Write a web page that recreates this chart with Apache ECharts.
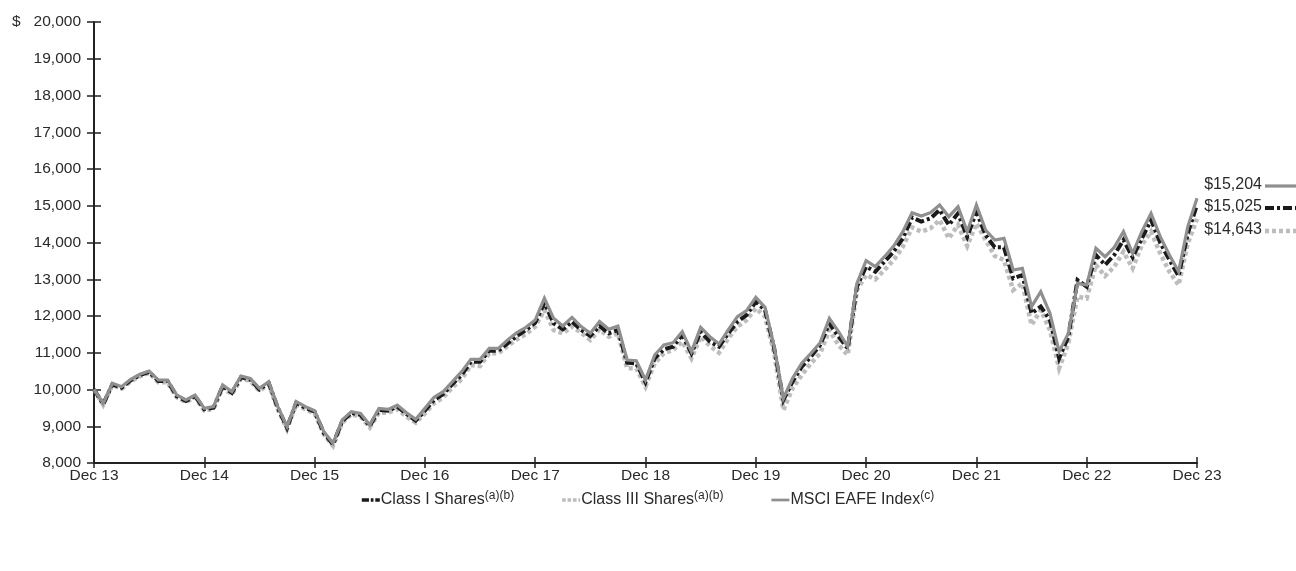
<!DOCTYPE html>
<html>
<head>
<meta charset="utf-8">
<script src="https://cdn.jsdelivr.net/npm/echarts@6/dist/echarts.min.js"></script>
<style>
html,body{margin:0;padding:0;background:#fff;}
#c{width:1296px;height:571px;}
</style>
</head>
<body>
<div id="c"></div>
<script>
// ---- data ----
const monthNames = ['Jan','Feb','Mar','Apr','May','Jun','Jul','Aug','Sep','Oct','Nov','Dec'];
const tickLabels = ['Dec 13','Dec 14','Dec 15','Dec 16','Dec 17','Dec 18','Dec 19','Dec 20','Dec 21','Dec 22','Dec 23'];
const seriesNames = ['Class I Shares', 'Class III Shares', 'MSCI EAFE Index'];
const seriesNotes = ['(a)(b)', '(a)(b)', '(c)'];
const endValues = [15025, 14643, 15204];

const classI = [
  10000, 9600, 10140, 10050, 10250, 10390, 10480, 10230, 10230, 9820, 9690, 9820, 9460, 9505, 10090, 9910, 10335, 10270, 10000, 10180, 9500, 8960, 9640, 9500, 9395, 8820, 8505, 9135, 9365,
  9306, 9007, 9442, 9424, 9533, 9333, 9152, 9424, 9714, 9877, 10150, 10394, 10757, 10757, 11057, 11057, 11256, 11456, 11619, 11818, 12363, 11800, 11637, 11846, 11619, 11456, 11728, 11528, 11619, 10730, 10712,
  10200, 10848, 11093, 11166, 11483, 10984, 11574, 11302, 11166, 11528, 11846, 12027, 12390, 12163, 11120, 9714, 10213, 10621, 10893, 11211, 11800, 11438, 11120, 12798, 13342, 13206, 13478, 13750, 14113, 14680,
  14567, 14657, 14884, 14476, 14793, 14158, 14839, 14204, 13868, 13868, 13025, 13115, 12072, 12254, 11891, 10848, 11437, 12980, 12798, 13660, 13388, 13660, 14068, 13596, 14113, 14612, 13995, 13524, 13088, 14249, 15025
];
const classIII = [
  10000, 9585, 10120, 10025, 10225, 10360, 10450, 10200, 10195, 9790, 9655, 9785, 9425, 9470, 10050, 9870, 10295, 10230, 9960, 10140, 9460, 8920, 9600, 9460, 9350, 8780, 8465, 9095, 9325,
  9261, 8970, 9370, 9370, 9460, 9261, 9097, 9351, 9624, 9787, 10059, 10277, 10667, 10639, 10984, 10984, 11184, 11365, 11510, 11710, 12163, 11619, 11528, 11710, 11546, 11347, 11637, 11438, 11528, 10576, 10576,
  10077, 10712, 10984, 11075, 11302, 10848, 11438, 11184, 11002, 11392, 11710, 11891, 12209, 11982, 10984, 9442, 10032, 10394, 10712, 10984, 11619, 11211, 10939, 12707, 13115, 12998, 13251, 13523, 13886, 14410,
  14295, 14385, 14612, 14113, 14476, 13905, 14521, 14068, 13632, 13524, 12707, 12889, 11755, 12163, 11619, 10576, 11256, 12526, 12481, 13388, 13088, 13342, 13750, 13297, 13932, 14295, 13705, 13206, 12843, 13977, 14643
];
const msci = [
  10000, 9623, 10168, 10077, 10277, 10413, 10503, 10258, 10258, 9850, 9714, 9850, 9487, 9533, 10122, 9941, 10367, 10304, 10032, 10213, 9533, 8989, 9669, 9533, 9424, 8853, 8535, 9170, 9397,
  9351, 9034, 9487, 9460, 9578, 9369, 9188, 9487, 9787, 9941, 10213, 10485, 10821, 10821, 11120, 11120, 11347, 11546, 11691, 11891, 12481, 11936, 11728, 11963, 11710, 11528, 11846, 11637, 11728, 10803, 10784,
  10258, 10939, 11211, 11274, 11574, 11029, 11691, 11438, 11238, 11619, 11982, 12145, 12508, 12236, 11166, 9760, 10304, 10712, 10984, 11274, 11936, 11574, 11166, 12889, 13505, 13342, 13614, 13905, 14295, 14811,
  14721, 14812, 15020, 14703, 14975, 14295, 15020, 14340, 14068, 14113, 13251, 13297, 12254, 12662, 12072, 11029, 11528, 12889, 12843, 13841, 13614, 13868, 14295, 13705, 14295, 14793, 14158, 13660, 13206, 14431, 15204
];

// month categories Dec 13 .. Dec 23
const categories = ['Dec 13'];
for (let y = 14; y <= 23; y++) {
  for (let m = 0; m < 12; m++) categories.push(monthNames[m] + ' ' + y);
}
const catsUsed = categories.slice(0, classI.length);

const FONT = '"Liberation Sans", Arial, sans-serif';
const TXT = '#2a2a2a';
const fmt = v => v.toLocaleString('en-US');

const styles = [
  { color: '#1a1a1a', width: 4, type: [9, 3, 3, 3] },
  { color: '#bdbdbd', width: 4.5, type: [4, 3] },
  { color: '#8f8f8f', width: 3.2, type: 'solid' }
];
const legendIcons = [
  'path://M0,0h8v4h-8z M10,0h3v4h-3z M15,0h5v4h-5z',
  'path://M0,0h4v4h-4z M6,0h4v4h-4z M12,0h4v4h-4z M18,0h2v4h-2z',
  'path://M0,0.5h20v3h-20z'
];
const dataSets = [classI, classIII, msci];

const chart = echarts.init(document.getElementById('c'), null, { renderer: 'canvas' });

const tickShow = (idx) => idx % 12 === 0;

const option = {
  animation: false,
  backgroundColor: '#fff',
  textStyle: { fontFamily: FONT },
  grid: { left: 94, right: 99, top: 22, bottom: 108, containLabel: false },
  xAxis: [
    {
      type: 'category', data: catsUsed, boundaryGap: false, position: 'bottom',
      axisLine: { show: true, lineStyle: { color: '#222', width: 2 } },
      axisTick: { show: true, inside: false, length: 5, interval: (i) => tickShow(i), lineStyle: { color: '#222', width: 1.5 } },
      axisLabel: { show: true, interval: (i) => tickShow(i), margin: 5, color: TXT, fontSize: 15.5, fontFamily: FONT },
      splitLine: { show: false }
    },
    {
      type: 'category', data: catsUsed, boundaryGap: false, position: 'bottom', offset: 0,
      axisLine: { show: false },
      axisTick: { show: true, inside: true, length: 6, interval: (i) => tickShow(i), lineStyle: { color: '#222', width: 1.5 } },
      axisLabel: { show: false },
      splitLine: { show: false }
    }
  ],
  yAxis: [
    {
      type: 'value', min: 8000, max: 20000, interval: 1000, position: 'left',
      axisLine: { show: true, lineStyle: { color: '#222', width: 2 } },
      axisTick: { show: true, inside: false, length: 7, lineStyle: { color: '#222', width: 1.5 } },
      axisLabel: {
        margin: 13, color: TXT, fontSize: 15.5, fontFamily: FONT,
        formatter: (v) => v === 20000 ? '{d|$}' + fmt(v) : fmt(v),
        rich: { d: { fontSize: 15.5, color: TXT, fontFamily: FONT, padding: [0, 13, 0, 0] } }
      },
      splitLine: { show: false }
    },
    {
      type: 'value', min: 8000, max: 20000, interval: 1000, position: 'left', offset: 0,
      axisLine: { show: false },
      axisTick: { show: true, inside: true, length: 7, lineStyle: { color: '#222', width: 1.5 } },
      axisLabel: { show: false },
      splitLine: { show: false }
    }
  ],
  legend: {
    bottom: 58, left: 'center', itemWidth: 18, itemHeight: 4, itemGap: 48,
    data: seriesNames.map((n, k) => ({ name: n, icon: legendIcons[k] })),
    textStyle: {
      color: TXT, fontSize: 16, fontFamily: FONT, padding: [0, 0, 0, -4],
      rich: {
        s: { fontSize: 12, color: TXT, fontFamily: FONT, verticalAlign: 'top', padding: [0, 0, 9, 0] }
      }
    },
    formatter: (name) => name + '{s|' + seriesNotes[seriesNames.indexOf(name)] + '}'
  },
  series: [1, 0, 2].map((k) => ({
    name: seriesNames[k], type: 'line', xAxisIndex: 0, yAxisIndex: 0,
    data: dataSets[k], symbol: 'none', smooth: false,
    z: k === 2 ? 4 : (k === 0 ? 3 : 2),
    lineStyle: { color: styles[k].color, width: styles[k].width, type: styles[k].type, cap: 'butt', join: 'miter' },
    itemStyle: { color: styles[k].color }
  })),
  graphic: []
};

// end labels at right with line samples
const endOrder = [2, 0, 1];
const endY = [186, 208, 231];
endOrder.forEach((k, j) => {
  option.graphic.push({
    type: 'text', right: 34, top: endY[j] - 9,
    style: { text: '$' + fmt(endValues[k]), fill: TXT, font: '16px ' + FONT, textAlign: 'right' }
  });
  option.graphic.push({
    type: 'line', shape: { x1: 1265, y1: endY[j], x2: 1296, y2: endY[j] },
    style: { stroke: styles[k].color, lineWidth: styles[k].width, lineDash: Array.isArray(styles[k].type) ? styles[k].type : null }
  });
});

chart.setOption(option);
</script>
</body>
</html>
